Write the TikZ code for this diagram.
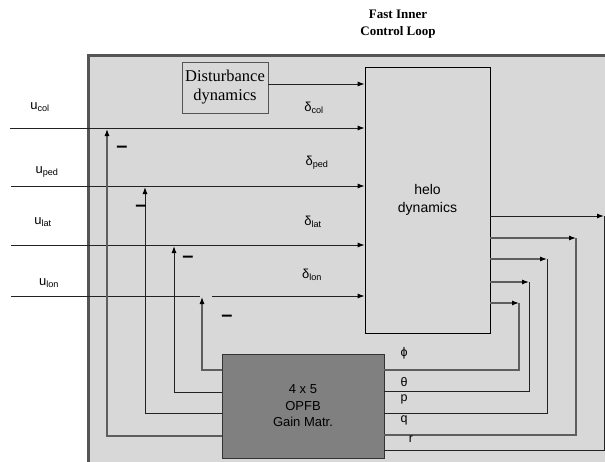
\documentclass[tikz,border=0pt]{standalone}
\usepackage{fontspec}
\setmainfont{Liberation Sans}
\newfontfamily\seriffont{Liberation Serif}
\usetikzlibrary{arrows.meta}
\definecolor{panel}{HTML}{D8D8D8}
\definecolor{border}{HTML}{555555}
\definecolor{gainfill}{HTML}{808080}
\definecolor{wiredark}{HTML}{222222}
\definecolor{wiregray}{HTML}{5E5E5E}
\begin{document}
\begin{tikzpicture}[x=1pt,y=-1pt,
  arr/.style={-{Latex[length=7pt,width=5pt,color=black]}},
  wire/.style={line width=1pt,draw=wiredark},
  gwire/.style={line width=1.1pt,draw=wiregray},
  lbl/.style={font=\fontsize{13}{15}\selectfont,inner sep=1pt},
  outlbl/.style={font=\fontsize{12.5}{14}\selectfont,inner sep=1pt},
  minus/.style={font=\bfseries\fontsize{20}{20}\selectfont,inner sep=0pt},
  block/.style={inner sep=0pt,align=center}]
\useasboundingbox (0,0) rectangle (605,461);
% panel
\fill[panel] (88,55) rectangle (612,468);
\draw[border,line width=3pt] (88,468) -- (88,55) -- (612,55);
% title
\node[align=center,font=\seriffont\bfseries\fontsize{13}{17}\selectfont] (title) at (398,24) {Fast Inner\\Control Loop};
% blocks
\node[block,draw=border,line width=0.8pt,minimum width=86pt,minimum height=51pt,
  font=\seriffont\fontsize{16.5}{19}\selectfont] (dist) at (225,87.5) {Disturbance\\dynamics};
\node[block,draw=black,line width=0.7pt,fill=panel,minimum width=125pt,minimum height=266pt,
  font=\fontsize{14}{18}\selectfont] (helo) at (427.5,200) {helo\\dynamics};
\node[block,draw=black!80,line width=0.9pt,fill=gainfill,minimum width=162pt,minimum height=104pt,
  font=\fontsize{13}{16.5}\selectfont] (opfb) at (303,406) {4 x 5\\OPFB\\Gain Matr.};
% input coordinates
\coordinate (icol) at (10,128);
\coordinate (iped) at (11,186);
\coordinate (ilat) at (11,245);
\coordinate (ilon) at (11,296);
\coordinate (lonA) at (200,296);
\coordinate (lonB) at (212,296);
% feedback tips
\coordinate (tcol) at (107,129);
\coordinate (tped) at (145,187);
\coordinate (tlat) at (174,246);
\coordinate (tlon) at (202,297);
% rows on the left of the gain block
\coordinate (rcol) at (0,436);
\coordinate (rped) at (0,413);
\coordinate (rlat) at (0,392);
\coordinate (rlon) at (0,370);
% output corners
\coordinate (cr) at (604,216);
\coordinate (cq) at (576,238);
\coordinate (cp) at (547,259);
\coordinate (cth) at (529,282);
\coordinate (cph) at (519,303);
% rows on the right of the gain block
\coordinate (orr) at (0,450);
\coordinate (orq) at (0,435);
\coordinate (orp) at (0,413);
\coordinate (orth) at (0,391);
\coordinate (orph) at (0,370);
% disturbance
\draw[wire,arr] ([yshift=3.5pt]dist.east) -- ([yshift=3.5pt]dist.east -| helo.west);
% inputs
\draw[wire,arr] (icol) -- (icol -| helo.west);
\draw[wire,arr] (iped) -- (iped -| helo.west);
\draw[wire,arr] (ilat) -- (ilat -| helo.west);
\draw[wire] (ilon) -- (lonA);
\draw[wire,arr] (lonB) -- (lonB -| helo.west);
% feedback to summing points
\draw[gwire,arr] (opfb.west |- rcol) -| (tcol);
\draw[wire,arr] (opfb.west |- rped) -| (tped);
\draw[wire,arr] (opfb.west |- rlat) -| (tlat);
\draw[gwire,arr] (opfb.west |- rlon) -| (tlon);
% outputs
\draw[wire,arr] (helo.east |- cr) -- (cr);
\draw[wire] (cr) |- (opfb.east |- orr);
\draw[gwire,arr] (helo.east |- cq) -- (cq);
\draw[gwire] (cq) |- (opfb.east |- orq);
\draw[gwire,arr] (helo.east |- cp) -- (cp);
\draw[wire] (cp) |- (opfb.east |- orp);
\draw[gwire,arr] (helo.east |- cth) -- (cth);
\draw[wire] (cth) |- (opfb.east |- orth);
\draw[gwire,arr] (helo.east |- cph) -- (cph);
\draw[gwire] (cph) |- (opfb.east |- orph);
% labels
\node[lbl] (ucol) at (40,107) {u\textsubscript{col}};
\node[lbl] (uped) at (47,172) {u\textsubscript{ped}};
\node[lbl] (ulat) at (43,222) {u\textsubscript{lat}};
\node[lbl] (ulon) at (49,283) {u\textsubscript{lon}};
\node[lbl] (dcol) at (314,108) {δ\textsubscript{col}};
\node[lbl] (dped) at (317,163) {δ\textsubscript{ped}};
\node[lbl] (dlat) at (313,222) {δ\textsubscript{lat}};
\node[lbl] (dlon) at (312,275) {δ\textsubscript{lon}};
\node[minus] (m1) at (122,149) {–};
\node[minus] (m2) at (141,208) {–};
\node[minus] (m3) at (188,259) {–};
\node[minus] (m4) at (227,318) {–};
\node[outlbl] (lph) at (404,353) {ϕ};
\node[outlbl] (lth) at (404,382) {θ};
\node[outlbl] (lp) at (404,399) {p};
\node[outlbl] (lq) at (404,420) {q};
\node[outlbl] (lr) at (411,439) {r};
\end{tikzpicture}
\end{document}
